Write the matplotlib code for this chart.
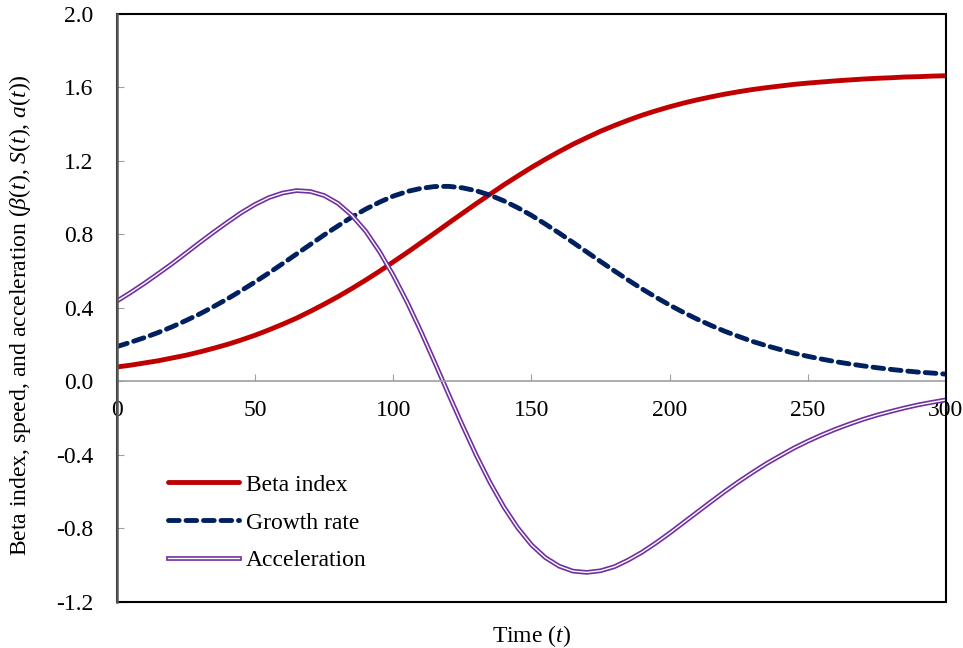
import matplotlib.pyplot as plt
import matplotlib.patheffects as pe
from matplotlib.patches import Rectangle

plt.rcParams['font.family'] = 'Liberation Serif'
plt.rcParams['mathtext.fontset'] = 'custom'
plt.rcParams['mathtext.rm'] = 'Liberation Serif'
plt.rcParams['mathtext.it'] = 'Liberation Serif:italic'

t = [0, 5, 10, 15, 20, 25, 30, 35, 40, 45, 50, 55, 60, 65, 70, 75, 80, 85, 90, 95,
     100, 105, 110, 115, 120, 125, 130, 135, 140, 145, 150, 155, 160, 165, 170, 175,
     180, 185, 190, 195, 200, 205, 210, 215, 220, 225, 230, 235, 240, 245, 250, 255,
     260, 265, 270, 275, 280, 285, 290, 295, 300]

beta = [0.079, 0.089, 0.101, 0.113, 0.128, 0.143, 0.161, 0.181, 0.202, 0.226,
        0.252, 0.281, 0.312, 0.345, 0.382, 0.421, 0.462, 0.506, 0.552, 0.600,
        0.651, 0.702, 0.755, 0.808, 0.862, 0.915, 0.968, 1.019, 1.070, 1.118,
        1.165, 1.209, 1.251, 1.291, 1.327, 1.362, 1.393, 1.422, 1.449, 1.473,
        1.495, 1.515, 1.533, 1.549, 1.564, 1.577, 1.589, 1.599, 1.608, 1.617,
        1.624, 1.630, 1.636, 1.641, 1.646, 1.650, 1.653, 1.657, 1.659, 1.662, 1.664]

speed = [0.190, 0.214, 0.239, 0.267, 0.298, 0.332, 0.368, 0.408, 0.450, 0.495,
         0.542, 0.591, 0.642, 0.694, 0.746, 0.798, 0.847, 0.895, 0.938, 0.976,
         1.009, 1.034, 1.051, 1.061, 1.062, 1.054, 1.038, 1.014, 0.983, 0.946,
         0.904, 0.857, 0.808, 0.757, 0.705, 0.653, 0.602, 0.552, 0.504, 0.459,
         0.416, 0.376, 0.339, 0.305, 0.273, 0.245, 0.218, 0.195, 0.174, 0.154,
         0.137, 0.122, 0.108, 0.096, 0.085, 0.075, 0.066, 0.058, 0.051, 0.046, 0.040]

accel = [0.438, 0.485, 0.535, 0.588, 0.642, 0.699, 0.757, 0.813, 0.867, 0.919,
         0.964, 1.001, 1.026, 1.039, 1.034, 1.012, 0.969, 0.904, 0.818, 0.707,
         0.577, 0.432, 0.272, 0.103, -0.069, -0.238, -0.401, -0.550, -0.683, -0.796,
         -0.889, -0.958, -1.005, -1.032, -1.039, -1.030, -1.008, -0.972, -0.929, -0.879,
         -0.825, -0.768, -0.711, -0.654, -0.598, -0.545, -0.495, -0.447, -0.404, -0.362,
         -0.325, -0.291, -0.260, -0.232, -0.206, -0.183, -0.163, -0.144, -0.127, -0.113, -0.100]

yticks = [-1.2, -0.8, -0.4, 0.0, 0.4, 0.8, 1.2, 1.6, 2.0]
xticks = [0, 50, 100, 150, 200, 250, 300]

fig = plt.figure(figsize=(9.63, 6.48), dpi=100)
ax = fig.add_axes([0.1215, 0.071, 0.8608, 0.9074])

ax.plot(t, beta, color='#C00000', linewidth=3.5, label='Beta index',
        solid_capstyle='round')
ax.plot(t, speed, color='#002060', linewidth=3.5, linestyle=(0, (2.2, 1.4)),
        label='Growth rate', dash_capstyle='round')
ax.plot(t, accel, color='white', linewidth=1.0, label='Acceleration',
        path_effects=[pe.Stroke(linewidth=3.4, foreground='#7030A0'), pe.Normal()])

ax.set_xlim(0, 300)
ax.set_ylim(-1.2, 2.0)
ax.set_xticks(xticks)
ax.set_yticks(yticks)
ax.set_yticklabels(['%.1f' % v for v in yticks])

for s in ['top', 'right']:
    ax.spines[s].set_visible(False)
ax.spines['bottom'].set_position(('data', 0))
ax.spines['bottom'].set_color('#A0A0A0')
ax.spines['bottom'].set_linewidth(1.2)
ax.spines['left'].set_color('#595959')
ax.spines['left'].set_linewidth(1.8)
ax.spines['left'].set_zorder(4)
ax.add_patch(Rectangle((0, 0), 1, 1, transform=ax.transAxes, fill=False,
                       edgecolor='black', linewidth=1.5, clip_on=False, zorder=3))

ax.tick_params(axis='x', direction='in', length=5, color='#A0A0A0',
               labelsize=17, pad=13)
ax.tick_params(axis='y', direction='in', length=5, color='#A0A0A0',
               labelsize=17, pad=17)

ax.set_xlabel('Time ($t$)', fontsize=17, labelpad=0)
ax.xaxis.set_label_coords(0.5, -0.035)
ax.set_ylabel(r'Beta index, speed, and acceleration ($\beta$($t$), $S$($t$), $a$($t$))',
              fontsize=17)
ax.yaxis.set_label_coords(-0.101, 0.488)

ax.legend(loc='lower left', bbox_to_anchor=(0.036, 0.016), frameon=False,
          fontsize=17, handlelength=3.0, handletextpad=0.3, labelspacing=0.69)

plt.savefig('out.png', dpi=100)
